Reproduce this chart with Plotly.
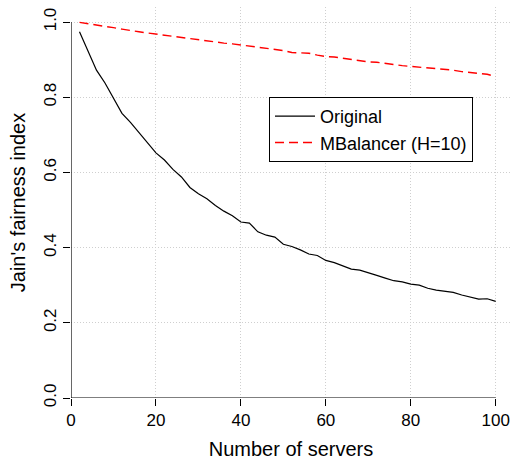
import plotly.graph_objects as go

servers = list(range(2, 101, 2))
original = [0.974, 0.923, 0.872, 0.838, 0.798, 0.757, 0.733, 0.707, 0.678, 0.652,
            0.633, 0.608, 0.588, 0.560, 0.543, 0.530, 0.512, 0.497, 0.485, 0.468,
            0.465, 0.442, 0.433, 0.428, 0.409, 0.403, 0.394, 0.383, 0.379, 0.366,
            0.360, 0.352, 0.343, 0.340, 0.332, 0.326, 0.319, 0.312, 0.309, 0.303,
            0.300, 0.292, 0.287, 0.284, 0.281, 0.274, 0.269, 0.263, 0.264, 0.257]
mbalancer = [0.999, 0.996, 0.992, 0.989, 0.985, 0.981, 0.977, 0.974, 0.971, 0.968,
             0.966, 0.962, 0.958, 0.955, 0.952, 0.949, 0.946, 0.944, 0.942, 0.939,
             0.937, 0.933, 0.930, 0.927, 0.924, 0.919, 0.918, 0.917, 0.912, 0.908,
             0.907, 0.904, 0.900, 0.896, 0.894, 0.893, 0.889, 0.887, 0.884, 0.882,
             0.879, 0.877, 0.875, 0.874, 0.872, 0.868, 0.865, 0.863, 0.861, 0.855]
x_ticks = [0, 20, 40, 60, 80, 100]
y_ticks = [0.0, 0.2, 0.4, 0.6, 0.8, 1.0]
y_tick_labels = ["0.0", "0.2", "0.4", "0.6", "0.8", "1.0"]

FONT = "Liberation Sans, Arial, Helvetica, sans-serif"
GRID = "#cfcfcf"

fig = go.Figure()
fig.add_trace(go.Scatter(x=servers, y=original, mode="lines", name="Original",
                         line=dict(color="black", width=1.2)))
fig.add_trace(go.Scatter(x=servers, y=mbalancer, mode="lines", name="MBalancer (H=10)",
                         line=dict(color="#ff0000", width=1.4, dash="9px,5px")))

# L-shaped axis lines spanning only the tick range (R style)
fig.add_shape(type="line", xref="x", yref="y", x0=0, x1=100, y0=0, y1=0,
              line=dict(color="black", width=1.2))
fig.add_shape(type="line", xref="x", yref="y", x0=0, x1=0, y0=0, y1=1,
              line=dict(color="black", width=1.2))

fig.update_layout(
    width=512, height=461,
    margin=dict(l=71, r=1, t=7, b=63),
    paper_bgcolor="white", plot_bgcolor="white",
    font=dict(family=FONT, size=17, color="black"),
    showlegend=True,
    legend=dict(x=0.45, y=0.77, xanchor="left", yanchor="top",
                bordercolor="black", borderwidth=1, bgcolor="white",
                font=dict(size=18), itemwidth=40, tracegroupgap=0),
    xaxis=dict(range=[0, 103.6], tickvals=x_ticks, ticks="outside", ticklen=7,
               tickcolor="black", showline=False, zeroline=False,
               showgrid=True, gridcolor=GRID, griddash="1px,2px", gridwidth=1,
               title=dict(text="Number of servers", standoff=12)),
    yaxis=dict(range=[0, 1.04], tickvals=y_ticks, ticktext=y_tick_labels,
               ticks="outside", ticklen=7, tickcolor="black", tickangle=-90,
               showline=False, zeroline=False,
               showgrid=True, gridcolor=GRID, griddash="1px,2px", gridwidth=1,
               title=dict(text="Jain's fairness index", standoff=10)),
)

fig.write_html("out.html")
